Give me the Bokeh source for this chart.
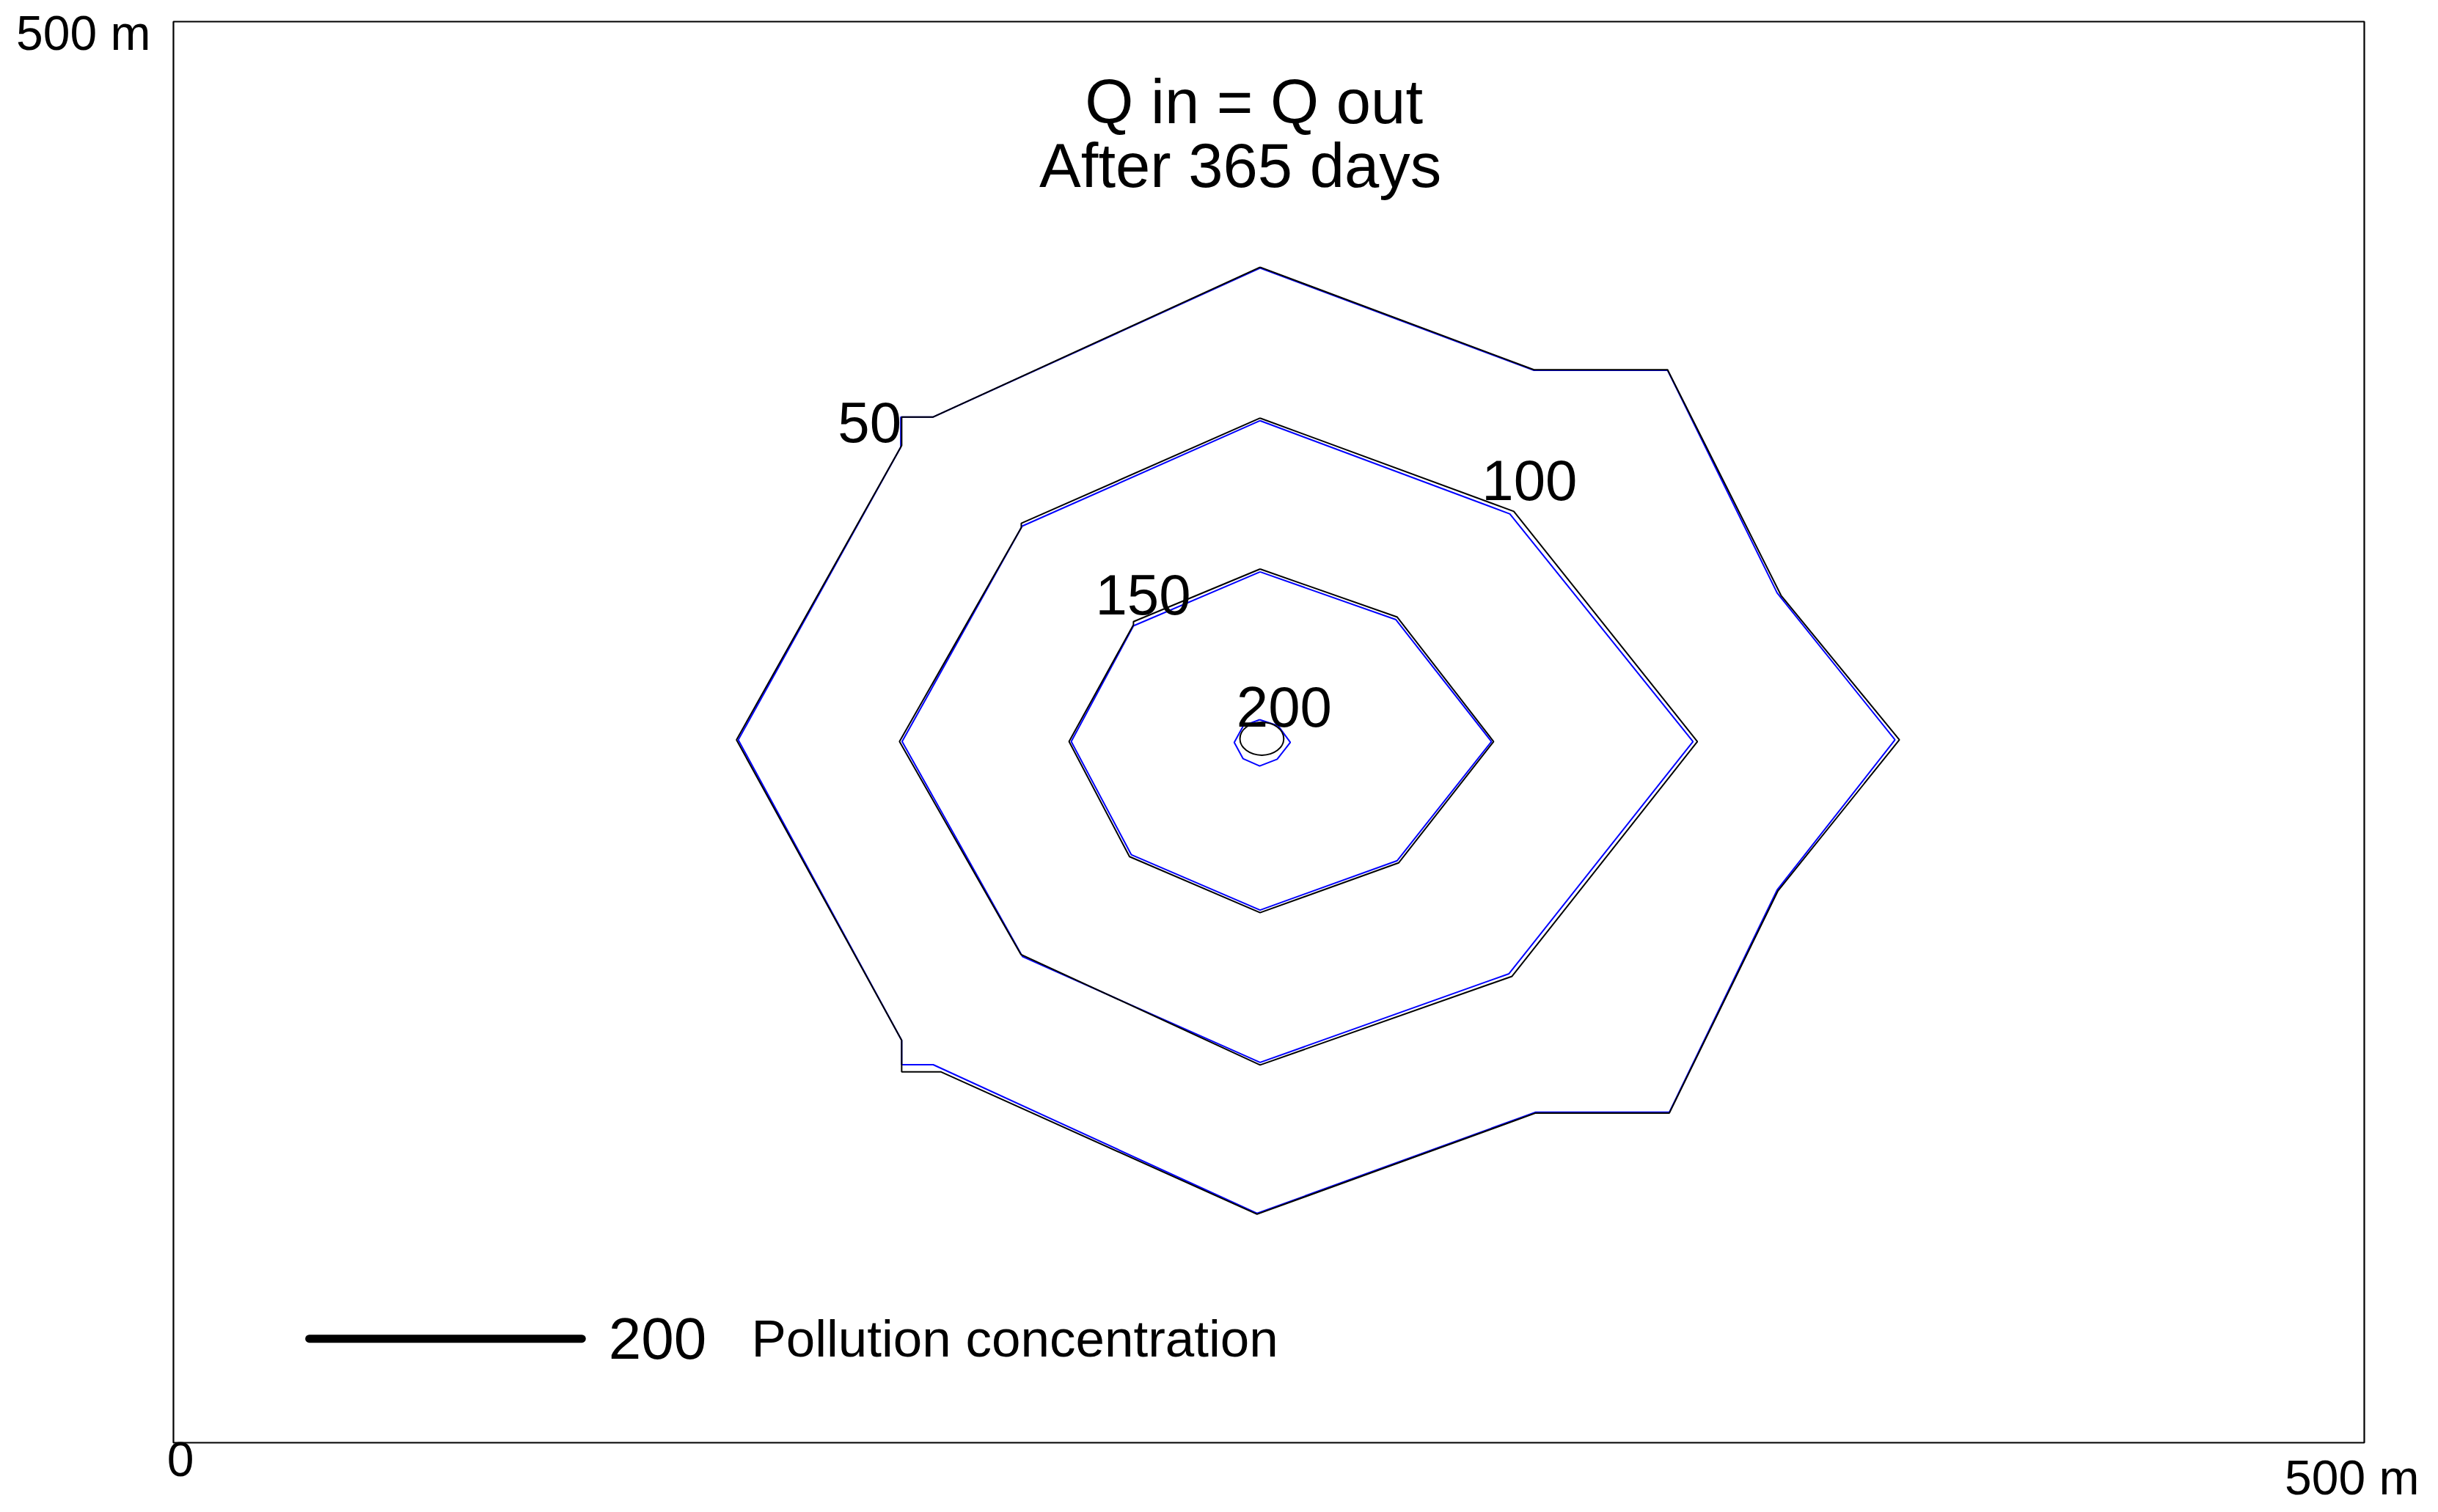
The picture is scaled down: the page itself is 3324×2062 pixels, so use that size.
from bokeh.plotting import figure
from bokeh.models import Range1d
from bokeh.core.properties import value
from bokeh.embed import file_html
from bokeh.resources import INLINE

FONT = "Liberation Sans"

# ---- model domain (metres) ----
domain_min = 0
domain_max = 500

# ---- contour data (metres, 0..500 domain) ----
# 50 contour
x50_black = [248, 310.5, 341, 366.9, 393.9, 366.2, 341.4, 310.9, 247.3, 175.1, 166.2, 166.2, 128.5, 166.2, 166.2, 173.4, 248]
y50_black = [413.6, 377.5, 377.5, 298.1, 247.3, 194.2, 116.0, 116.0, 80.4, 130.5, 130.5, 141.6, 247.3, 350.9, 360.9, 360.9, 413.6]
x50_blue = [248, 310.5, 341, 366.0, 392.9, 366.0, 341.4, 310.9, 247.3, 173.4, 166.2, 166.2, 128.9, 166.0, 166.0, 173.4, 248]
y50_blue = [413.3, 377.3, 377.3, 299.0, 247.3, 194.5, 116.3, 116.3, 80.7, 133.0, 133.0, 141.6, 247.3, 350.3, 360.9, 360.9, 413.3]

# 100 contour
x100_black = [248, 305.9, 347.8, 305.5, 248, 193.4, 165.7, 193.5, 193.5, 248]
y100_black = [360.5, 327.7, 246.7, 164.1, 132.9, 171.8, 246.7, 322.0, 323.5, 360.5]
x100_blue = [248, 305.0, 346.8, 304.8, 248, 193.8, 166.3, 193.7, 248]
y100_blue = [359.6, 326.8, 246.7, 165.0, 133.8, 171.0, 246.7, 322.5, 359.6]

# 150 contour
x150_black = [248, 279.3, 301.3, 279.6, 248, 218.2, 204.4, 219.1, 219.1, 248]
y150_black = [307.4, 290.5, 246.7, 204.0, 186.5, 206.2, 246.7, 287.8, 288.9, 307.4]
x150_blue = [248, 279.0, 300.8, 279.3, 248, 218.6, 204.9, 219.1, 248]
y150_blue = [306.4, 289.6, 246.7, 204.8, 187.4, 206.9, 246.7, 287.4, 306.4]

# 200 contour
c200_black_x = [248.4]
c200_black_y = [247.7]
c200_black_w = [10.0]
c200_black_h = [11.6]
x200_blue = [247.9, 252.1, 254.9, 251.9, 247.9, 244.1, 242.1, 244.2, 247.9]
y200_blue = [254.4, 252.3, 246.4, 240.5, 238.1, 240.7, 246.4, 252.3, 254.4]

# contour labels
label_text = ["50", "100", "150", "200"]
label_x = [158.9, 309.5, 221.3, 253.5]
label_y = [359.0, 338.5, 298.5, 259.0]

# title lines
title_text = ["Q in = Q out", "After 365 days"]
title_x = [246.6, 243.5]
title_y = [471.9, 449.4]

# legend
legend_line_x = [31.0, 93.2]
legend_line_y = [36.6, 36.6]
legend_value = "200"
legend_value_x = 99.3
legend_label = "Pollution concentration"
legend_label_x = 131.9
legend_y = 36.6

# corner (scale) labels
corner_text = ["500 m", "0", "500 m"]
corner_x = [-5.2, 1.6, 497.2]
corner_y = [495.9, -5.7, -12.2]

p = figure(width=3316, height=2060,
           x_range=Range1d(-39.50, 515.57), y_range=Range1d(-23.99, 507.48),
           x_axis_type=None, y_axis_type=None, output_backend="svg", toolbar_location=None,
           min_border=0)
p.grid.visible = False
p.outline_line_color = None
p.background_fill_color = "white"
p.border_fill_color = "white"

# model boundary box
p.quad(left=[domain_min], right=[domain_max], bottom=[domain_min], top=[domain_max],
       fill_color=None, line_color="black", line_width=2.2)

BLUE = "#0000ff"
for xs, ys in [(x50_blue, y50_blue), (x100_blue, y100_blue), (x150_blue, y150_blue), (x200_blue, y200_blue)]:
    p.line(xs, ys, line_color=BLUE, line_width=2)
for xs, ys in [(x50_black, y50_black), (x100_black, y100_black), (x150_black, y150_black)]:
    p.line(xs, ys, line_color="black", line_width=2)
p.ellipse(x=c200_black_x, y=c200_black_y, width=c200_black_w, height=c200_black_h,
          fill_color=None, line_color="black", line_width=2)

p.text(x=label_x, y=label_y, text=label_text, text_font=value(FONT), text_font_size="78px",
       text_align="center", text_baseline="middle", text_color="black")

for t, x, y in zip(title_text, title_x, title_y):
    p.text(x=[x], y=[y], text=[t], text_font=value(FONT), text_font_size="85px",
           text_align="center", text_baseline="middle", text_color="black")

p.line(legend_line_x, legend_line_y, line_color="black", line_width=11, line_cap="round")
p.text(x=[legend_value_x], y=[legend_y], text=[legend_value], text_font=value(FONT),
       text_font_size="80px", text_align="left", text_baseline="middle", text_color="black")
p.text(x=[legend_label_x], y=[legend_y], text=[legend_label], text_font=value(FONT),
       text_font_size="71px", text_align="left", text_baseline="middle", text_color="black")

aligns = ["right", "center", "center"]
for t, x, y, a in zip(corner_text, corner_x, corner_y, aligns):
    p.text(x=[x], y=[y], text=[t], text_font=value(FONT), text_font_size="66px",
           text_align=a, text_baseline="middle", text_color="black")

open("out.html", "w").write(file_html(p, INLINE))
